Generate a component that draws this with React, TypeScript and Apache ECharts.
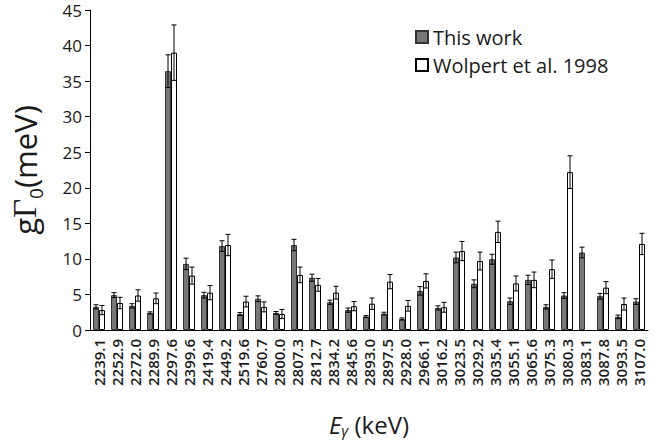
import React, { useEffect, useRef } from "react";
import * as echarts from "echarts";

const categories = [
  "2239.1", "2252.9", "2272.0", "2289.9", "2297.6", "2399.6", "2419.4", "2449.2",
  "2519.6", "2760.7", "2800.0", "2807.3", "2812.7", "2834.2", "2845.6", "2893.0",
  "2897.5", "2928.0", "2966.1", "3016.2", "3023.5", "3029.2", "3035.4", "3055.1",
  "3065.6", "3075.3", "3080.3", "3083.1", "3087.8", "3093.5", "3107.0",
];
const thisWork = [
  3.25, 4.9, 3.4, 2.4, 36.4, 9.3, 4.9, 11.8,
  2.25, 4.4, 2.4, 11.95, 7.35, 3.9, 2.8, 1.9,
  2.3, 1.55, 5.5, 3.1, 10.2, 6.5, 9.95, 4.05,
  7.05, 3.25, 4.85, 10.9, 4.75, 1.85, 4.0,
];
const thisWorkErr = [
  0.3, 0.35, 0.3, 0.15, 2.3, 0.8, 0.4, 0.75,
  0.2, 0.4, 0.2, 0.8, 0.5, 0.3, 0.3, 0.15,
  0.2, 0.15, 0.6, 0.3, 0.75, 0.55, 0.7, 0.45,
  0.65, 0.3, 0.4, 0.75, 0.4, 0.25, 0.4,
];
const wolpert: (number | null)[] = [
  2.8, 3.8, 4.85, 4.45, 39.0, 7.65, 5.25, 11.95,
  4.0, 3.25, 2.25, 7.75, 6.35, 5.25, 3.35, 3.7,
  6.8, 3.4, 6.9, 3.2, 11.1, 9.7, 13.8, 6.55,
  7.05, 8.55, 22.2, null, 5.95, 3.65, 12.1,
];
const wolpertErr: (number | null)[] = [
  0.65, 0.8, 0.8, 0.75, 3.9, 1.2, 1.0, 1.5,
  0.75, 0.7, 0.65, 1.1, 0.9, 0.9, 0.65, 0.8,
  1.0, 0.75, 1.0, 0.7, 1.35, 1.25, 1.5, 1.05,
  1.1, 1.3, 2.3, null, 0.85, 0.85, 1.5,
];
const yTicks = { min: 0, max: 45, interval: 5 };
const seriesNames = ["This work", "Wolpert et al. 1998"];

const FONT = "'Open Sans', 'Noto Sans', sans-serif";
const SERIF = "'Liberation Serif', 'DejaVu Serif', serif";
const BAR_W = 6;
const TXT = "#1a1a1a";

function errorSeries(vals: (number | null)[], errs: (number | null)[], offset: number) {
  const data = vals
    .map((v, i) => (v == null || errs[i] == null ? null : [i, v, errs[i] as number]))
    .filter((d) => d != null);
  return {
    type: "custom",
    silent: true,
    z: 10,
    renderItem: (params: any, api: any) => {
      const i = api.value(0);
      const v = api.value(1);
      const e = api.value(2);
      const top = api.coord([i, v + e]);
      const bot = api.coord([i, v - e]);
      const cx = top[0] + offset;
      const cap = 2.5;
      const st = { stroke: "#000", lineWidth: 1 };
      return {
        type: "group",
        children: [
          { type: "line", shape: { x1: cx, y1: top[1], x2: cx, y2: bot[1] }, style: st },
          { type: "line", shape: { x1: cx - cap, y1: top[1], x2: cx + cap, y2: top[1] }, style: st },
          { type: "line", shape: { x1: cx - cap, y1: bot[1], x2: cx + cap, y2: bot[1] }, style: st },
        ],
      };
    },
    data,
  };
}

export default function App() {
  const ref = useRef<HTMLDivElement>(null);
  useEffect(() => {
    const chart = echarts.init(ref.current!, null, { renderer: "svg" });
    chart.setOption({
      animation: false,
      textStyle: { fontFamily: FONT },
      grid: { left: 68, right: 10, top: 10, bottom: 105 },
      legend: {
        orient: "vertical",
        left: 410,
        top: 22,
        itemWidth: 12,
        itemHeight: 12,
        itemGap: 8,
        icon: "rect",
        textStyle: { fontSize: 20, lineHeight: 20, color: TXT, fontFamily: FONT },
        data: seriesNames,
      },
      xAxis: {
        type: "category",
        data: categories,
        axisLine: { lineStyle: { color: "#000", width: 1 } },
        axisTick: { show: false },
        axisLabel: {
          rotate: 90,
          interval: 0,
          fontSize: 15,
          fontWeight: 600,
          color: TXT,
          margin: 9,
          fontFamily: FONT,
        },
        name: "{i|E}{s|γ} (keV)",
        nameLocation: "middle",
        nameGap: 82,
        nameTextStyle: {
          fontSize: 24,
          color: TXT,
          fontFamily: FONT,
          rich: {
            i: { fontStyle: "italic", fontSize: 24, fontFamily: FONT, color: TXT },
            s: { fontSize: 15, fontStyle: "italic", fontFamily: FONT, color: TXT, padding: [10, 0, 0, 0] },
          },
        },
      },
      yAxis: {
        type: "value",
        min: yTicks.min,
        max: yTicks.max,
        interval: yTicks.interval,
        axisLine: { show: true, lineStyle: { color: "#000", width: 1 } },
        axisTick: { show: true, length: 5, lineStyle: { color: "#000" } },
        splitLine: { show: false },
        axisLabel: { fontSize: 17, color: TXT, margin: 8, fontFamily: FONT },
        name: "g{g|Γ}{s|0}(meV)",
        nameLocation: "middle",
        nameGap: 45,
        nameRotate: 90,
        nameTextStyle: {
          fontSize: 31,
          color: TXT,
          fontFamily: FONT,
          rich: {
            g: { fontSize: 33, fontFamily: SERIF, color: TXT },
            s: { fontSize: 19, fontFamily: FONT, color: TXT, padding: [22, 0, 0, 0] },
          },
        },
      },
      series: [
        {
          name: seriesNames[0],
          type: "bar",
          data: thisWork,
          barWidth: BAR_W,
          barGap: "0%",
          itemStyle: { color: "#777", borderColor: "#333", borderWidth: 1 },
        },
        {
          name: seriesNames[1],
          type: "bar",
          data: wolpert,
          barWidth: BAR_W,
          barGap: "0%",
          itemStyle: { color: "#fff", borderColor: "#000", borderWidth: 1 },
        },
        errorSeries(thisWork, thisWorkErr, -BAR_W / 2),
        errorSeries(wolpert, wolpertErr, BAR_W / 2),
      ],
    });
    return () => chart.dispose();
  }, []);
  return (
    <div
      ref={ref}
      style={{ position: "absolute", left: 0, top: 0, width: 658, height: 442 }}
    />
  );
}
